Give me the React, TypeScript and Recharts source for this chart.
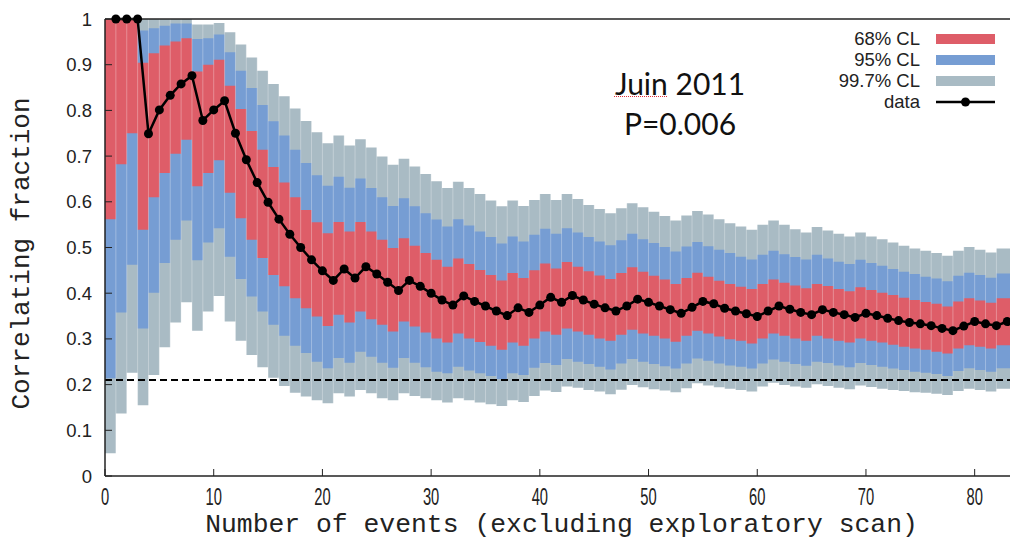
import React from 'react';
import {
  ComposedChart, Area, Line, XAxis, YAxis, ReferenceLine, Legend, Label,
} from 'recharts';

// observed correlating fraction, n = 1..83
const frac = [
  1, 1, 1, 0.749, 0.801, 0.833, 0.858, 0.876, 0.778, 0.801,
  0.821, 0.75, 0.692, 0.642, 0.599, 0.562, 0.529, 0.5, 0.473, 0.449,
  0.428, 0.453, 0.433, 0.458, 0.442, 0.424, 0.406, 0.428, 0.415, 0.4,
  0.385, 0.374, 0.394, 0.382, 0.372, 0.361, 0.351, 0.368, 0.358, 0.374,
  0.391, 0.38, 0.395, 0.385, 0.376, 0.368, 0.361, 0.372, 0.387, 0.38,
  0.372, 0.364, 0.356, 0.369, 0.382, 0.377, 0.367, 0.361, 0.355, 0.349,
  0.361, 0.372, 0.365, 0.358, 0.353, 0.364, 0.358, 0.353, 0.347, 0.356,
  0.351, 0.345, 0.34, 0.336, 0.333, 0.329, 0.323, 0.318, 0.328, 0.338,
  0.333, 0.329, 0.338,
];

// confidence bands, one box per event count (box n spans n-1 .. n)
const cl997Hi = [
  1, 1, 1, 1, 1, 1, 1, 1, 0.988, 0.988,
  0.991, 0.971, 0.944, 0.916, 0.887, 0.858, 0.831, 0.804, 0.777, 0.752,
  0.728, 0.745, 0.723, 0.737, 0.719, 0.699, 0.681, 0.694, 0.677, 0.661,
  0.645, 0.63, 0.644, 0.63, 0.617, 0.603, 0.59, 0.603, 0.591, 0.604,
  0.617, 0.604, 0.617, 0.606, 0.593, 0.584, 0.575, 0.586, 0.597, 0.588,
  0.578, 0.569, 0.559, 0.57, 0.58, 0.572, 0.562, 0.553, 0.546, 0.539,
  0.55, 0.559, 0.55, 0.54, 0.533, 0.545, 0.537, 0.53, 0.524, 0.533,
  0.524, 0.518, 0.511, 0.504, 0.498, 0.493, 0.488, 0.482, 0.493, 0.501,
  0.495, 0.489, 0.498,
];
const cl95Hi = [
  1, 1, 1, 0.975, 0.98, 0.985, 0.99, 0.99, 0.956, 0.958,
  0.966, 0.927, 0.887, 0.849, 0.812, 0.776, 0.745, 0.714, 0.685, 0.658,
  0.635, 0.655, 0.631, 0.651, 0.63, 0.61, 0.591, 0.608, 0.59, 0.575,
  0.561, 0.546, 0.562, 0.548, 0.535, 0.523, 0.509, 0.524, 0.513, 0.528,
  0.541, 0.53, 0.542, 0.533, 0.523, 0.513, 0.505, 0.516, 0.53, 0.518,
  0.51, 0.501, 0.491, 0.502, 0.512, 0.503, 0.495, 0.488, 0.48, 0.474,
  0.484, 0.493, 0.485, 0.479, 0.474, 0.484, 0.476, 0.469, 0.464, 0.473,
  0.466, 0.46, 0.453, 0.447, 0.442, 0.436, 0.432, 0.426, 0.438, 0.445,
  0.44, 0.434, 0.443,
];
const cl68Hi = [
  1, 1, 1, 0.904, 0.925, 0.942, 0.951, 0.958, 0.885, 0.9,
  0.911, 0.854, 0.803, 0.755, 0.714, 0.676, 0.642, 0.61, 0.582, 0.555,
  0.531, 0.556, 0.535, 0.556, 0.535, 0.517, 0.499, 0.52, 0.504, 0.488,
  0.473, 0.458, 0.476, 0.464, 0.451, 0.44, 0.428, 0.444, 0.433, 0.45,
  0.465, 0.454, 0.468, 0.458, 0.448, 0.439, 0.431, 0.444, 0.457, 0.447,
  0.438, 0.43, 0.42, 0.433, 0.445, 0.436, 0.427, 0.42, 0.414, 0.409,
  0.42, 0.43, 0.423, 0.417, 0.411, 0.42, 0.416, 0.409, 0.404, 0.413,
  0.407, 0.401, 0.396, 0.39, 0.385, 0.381, 0.377, 0.371, 0.382, 0.389,
  0.384, 0.379, 0.389,
];
const cl68Lo = [
  0.562, 0.682, 0.75, 0.539, 0.61, 0.663, 0.705, 0.736, 0.634, 0.663,
  0.691, 0.62, 0.564, 0.517, 0.477, 0.44, 0.415, 0.389, 0.367, 0.349,
  0.328, 0.353, 0.336, 0.36, 0.343, 0.331, 0.316, 0.338, 0.327, 0.314,
  0.301, 0.292, 0.312, 0.301, 0.293, 0.285, 0.276, 0.292, 0.285, 0.301,
  0.316, 0.309, 0.323, 0.316, 0.309, 0.301, 0.296, 0.309, 0.32, 0.312,
  0.307, 0.301, 0.294, 0.307, 0.318, 0.312, 0.305, 0.299, 0.296, 0.29,
  0.301, 0.312, 0.307, 0.301, 0.296, 0.307, 0.301, 0.296, 0.292, 0.301,
  0.296, 0.292, 0.287, 0.283, 0.279, 0.276, 0.272, 0.268, 0.279, 0.286,
  0.283, 0.279, 0.286,
];
const cl95Lo = [
  0.214, 0.358, 0.462, 0.323, 0.401, 0.466, 0.517, 0.559, 0.472, 0.511,
  0.542, 0.48, 0.431, 0.393, 0.36, 0.331, 0.307, 0.285, 0.269, 0.25,
  0.236, 0.258, 0.248, 0.272, 0.261, 0.248, 0.237, 0.258, 0.248, 0.238,
  0.228, 0.225, 0.239, 0.231, 0.225, 0.219, 0.212, 0.225, 0.221, 0.237,
  0.247, 0.243, 0.256, 0.25, 0.245, 0.239, 0.233, 0.246, 0.256, 0.25,
  0.245, 0.24, 0.235, 0.246, 0.257, 0.252, 0.246, 0.242, 0.239, 0.235,
  0.246, 0.255, 0.25, 0.245, 0.241, 0.25, 0.247, 0.242, 0.238, 0.247,
  0.243, 0.239, 0.235, 0.232, 0.228, 0.226, 0.223, 0.219, 0.23, 0.236,
  0.232, 0.228, 0.236,
];
const cl997Lo = [
  0.05, 0.137, 0.226, 0.155, 0.221, 0.282, 0.336, 0.38, 0.318, 0.36,
  0.394, 0.338, 0.296, 0.265, 0.238, 0.215, 0.197, 0.182, 0.174, 0.166,
  0.159, 0.181, 0.174, 0.188, 0.181, 0.17, 0.166, 0.181, 0.175, 0.17,
  0.166, 0.161, 0.17, 0.166, 0.161, 0.157, 0.153, 0.166, 0.162, 0.175,
  0.187, 0.184, 0.196, 0.193, 0.188, 0.185, 0.179, 0.189, 0.199, 0.194,
  0.19, 0.187, 0.183, 0.192, 0.203, 0.198, 0.194, 0.191, 0.188, 0.185,
  0.196, 0.204, 0.199, 0.196, 0.193, 0.201, 0.197, 0.193, 0.19, 0.198,
  0.195, 0.191, 0.188, 0.186, 0.183, 0.182, 0.18, 0.177, 0.186, 0.191,
  0.188, 0.185, 0.191,
];

const xTicks = [0, 10, 20, 30, 40, 50, 60, 70, 80];
const yTicks = [0, 0.1, 0.2, 0.3, 0.4, 0.5, 0.6, 0.7, 0.8, 0.9, 1];
const chanceLevel = 0.21;
const X_MAX = 83.25;

const RED = '#de5d68';
const BLUE = '#769dd3';
const GREY = '#a9bbc4';
const INK = '#222';
const SANS = "'Liberation Sans', Arial, Helvetica, sans-serif";
const MONO = "'Liberation Mono', 'Courier New', monospace";

const N = frac.length;
const band = (lo: number[], hi: number[], i: number) => [lo[i], hi[i]];

// row x = i carries the box from i to i+1 and the point at n = i
const rows: any[] = [];
for (let i = 0; i <= N; i++) {
  const c = Math.min(i, N - 1);
  rows.push({
    x: i,
    frac: i >= 1 ? frac[i - 1] : undefined,
    cl68: band(cl68Lo, cl68Hi, c),
    cl95: band(cl95Lo, cl95Hi, c),
    cl997: band(cl997Lo, cl997Hi, c),
  });
}
rows.push({
  x: X_MAX,
  cl68: band(cl68Lo, cl68Hi, N - 1),
  cl95: band(cl95Lo, cl95Hi, N - 1),
  cl997: band(cl997Lo, cl997Hi, N - 1),
});

const swatchColor: Record<string, string> = {
  '68% CL': RED, '95% CL': BLUE, '99.7% CL': GREY, data: '#000',
};
const legendOrder = ['68% CL', '95% CL', '99.7% CL', 'data'];

const renderLegend = (props: any) => {
  const payload = props.payload || [];
  const items = legendOrder.filter((n) => payload.some((p: any) => p.value === n));
  return (
    <div style={{ fontFamily: SANS, fontSize: 18.5, color: INK }}>
      {items.map((name) => (
        <div key={name} style={{ display: 'flex', alignItems: 'center', height: 21 }}>
          <span style={{ width: 100, textAlign: 'right', lineHeight: '21px' }}>{name}</span>
          {name === 'data' ? (
            <svg width={59} height={12} style={{ marginLeft: 16 }}>
              <line x1={0} y1={6} x2={59} y2={6} stroke="#000" strokeWidth={2.5} />
              <circle cx={29.5} cy={6} r={4.5} fill="#000" />
            </svg>
          ) : (
            <span style={{ marginLeft: 16, width: 59, height: 10, background: swatchColor[name] }} />
          )}
        </div>
      ))}
    </div>
  );
};

const XTick = (props: any) => {
  const { x, y, payload } = props;
  return (
    <text
      x={0} y={0}
      transform={`translate(${x},${y + 16}) scale(0.64,1)`}
      textAnchor="middle" fontSize={23} fontFamily={SANS} fill={INK}
    >
      {payload.value}
    </text>
  );
};

const XTitle = (props: any) => {
  const vb = props.viewBox || { x: 105, width: 905 };
  return (
    <text x={vb.x + vb.width / 2 + 4} y={532} textAnchor="middle"
      fontSize={26.4} fontFamily={MONO} fill={INK}>
      Number of events (excluding exploratory scan)
    </text>
  );
};

const YTitle = (props: any) => {
  const vb = props.viewBox || { y: 19, height: 457 };
  const cy = vb.y + vb.height / 2 + 6;
  return (
    <text x={29} y={cy} transform={`rotate(-90, 29, ${cy})`} textAnchor="middle"
      fontSize={26} fontFamily={MONO} fill={INK}>
      Correlating fraction
    </text>
  );
};

export default function App() {
  return (
    <div style={{ position: 'absolute', left: 0, top: 0, width: 1011, height: 541, background: '#fff' }}>
      <ComposedChart width={1011} height={541} data={rows}
        margin={{ top: 18, right: 0, bottom: 0, left: 0 }}>
        <XAxis type="number" dataKey="x" domain={[0, X_MAX]} ticks={xTicks}
          allowDataOverflow height={65} tickSize={-7} tickMargin={20}
          tick={<XTick />} stroke={INK} axisLine={{ stroke: INK, strokeWidth: 1.5 }}>
          <Label content={<XTitle />} />
        </XAxis>
        <XAxis xAxisId="top" orientation="top" type="number" dataKey="x"
          domain={[0, X_MAX]} ticks={xTicks} allowDataOverflow height={1}
          tickSize={-7} tick={false} stroke={INK} axisLine={{ stroke: INK, strokeWidth: 1.5 }} />
        <YAxis type="number" domain={[0, 1]} ticks={yTicks} width={105}
          tickSize={-7} tickMargin={20} stroke={INK}
          axisLine={{ stroke: INK, strokeWidth: 1.5 }}
          tick={{ fontSize: 18.5, fontFamily: SANS, fill: INK }}
          tickFormatter={(v: number) => String(v)}>
          <Label content={<YTitle />} />
        </YAxis>
        <YAxis yAxisId="right" orientation="right" type="number" domain={[0, 1]}
          ticks={yTicks} width={1} tickSize={-7} tick={false} axisLine={false} stroke={INK} />

        <Area name="99.7% CL" dataKey="cl997" type="stepAfter" fill={GREY} fillOpacity={1}
          stroke="none" isAnimationActive={false} />
        <Area name="95% CL" dataKey="cl95" type="stepAfter" fill={BLUE} fillOpacity={1}
          stroke="none" isAnimationActive={false} />
        <Area name="68% CL" dataKey="cl68" type="stepAfter" fill={RED} fillOpacity={1}
          stroke="none" isAnimationActive={false} />

        {/* faint box edges between adjacent event counts */}
        {rows.slice(1, N).map((r) => (
          <ReferenceLine key={r.x} x={r.x} stroke="#ffffff" strokeOpacity={0.3} strokeWidth={1} />
        ))}

        <ReferenceLine y={chanceLevel} stroke="#000" strokeWidth={2} strokeDasharray="7 4" />

        <Line name="data" dataKey="frac" stroke="#000" strokeWidth={2.5}
          dot={{ r: 4.5, fill: '#000', stroke: '#000', strokeWidth: 0 }}
          activeDot={false} isAnimationActive={false} />

        <Legend layout="vertical" align="center" verticalAlign="middle"
          wrapperStyle={{ left: 820, top: 28, width: 185 }} content={renderLegend} />
      </ComposedChart>

      <div style={{
        position: 'absolute', left: 580, top: 63, width: 200, textAlign: 'center',
        fontFamily: "Lato, 'Open Sans', sans-serif", fontSize: 30, lineHeight: '40px', color: '#111',
      }}>
        <div>
          <span style={{
            textDecorationLine: 'underline', textDecorationStyle: 'dotted',
            textDecorationColor: '#e0303a', textDecorationThickness: '1px',
          }}>Juin</span>{' '}2011
        </div>
        <div>P=0.006</div>
      </div>
    </div>
  );
}
